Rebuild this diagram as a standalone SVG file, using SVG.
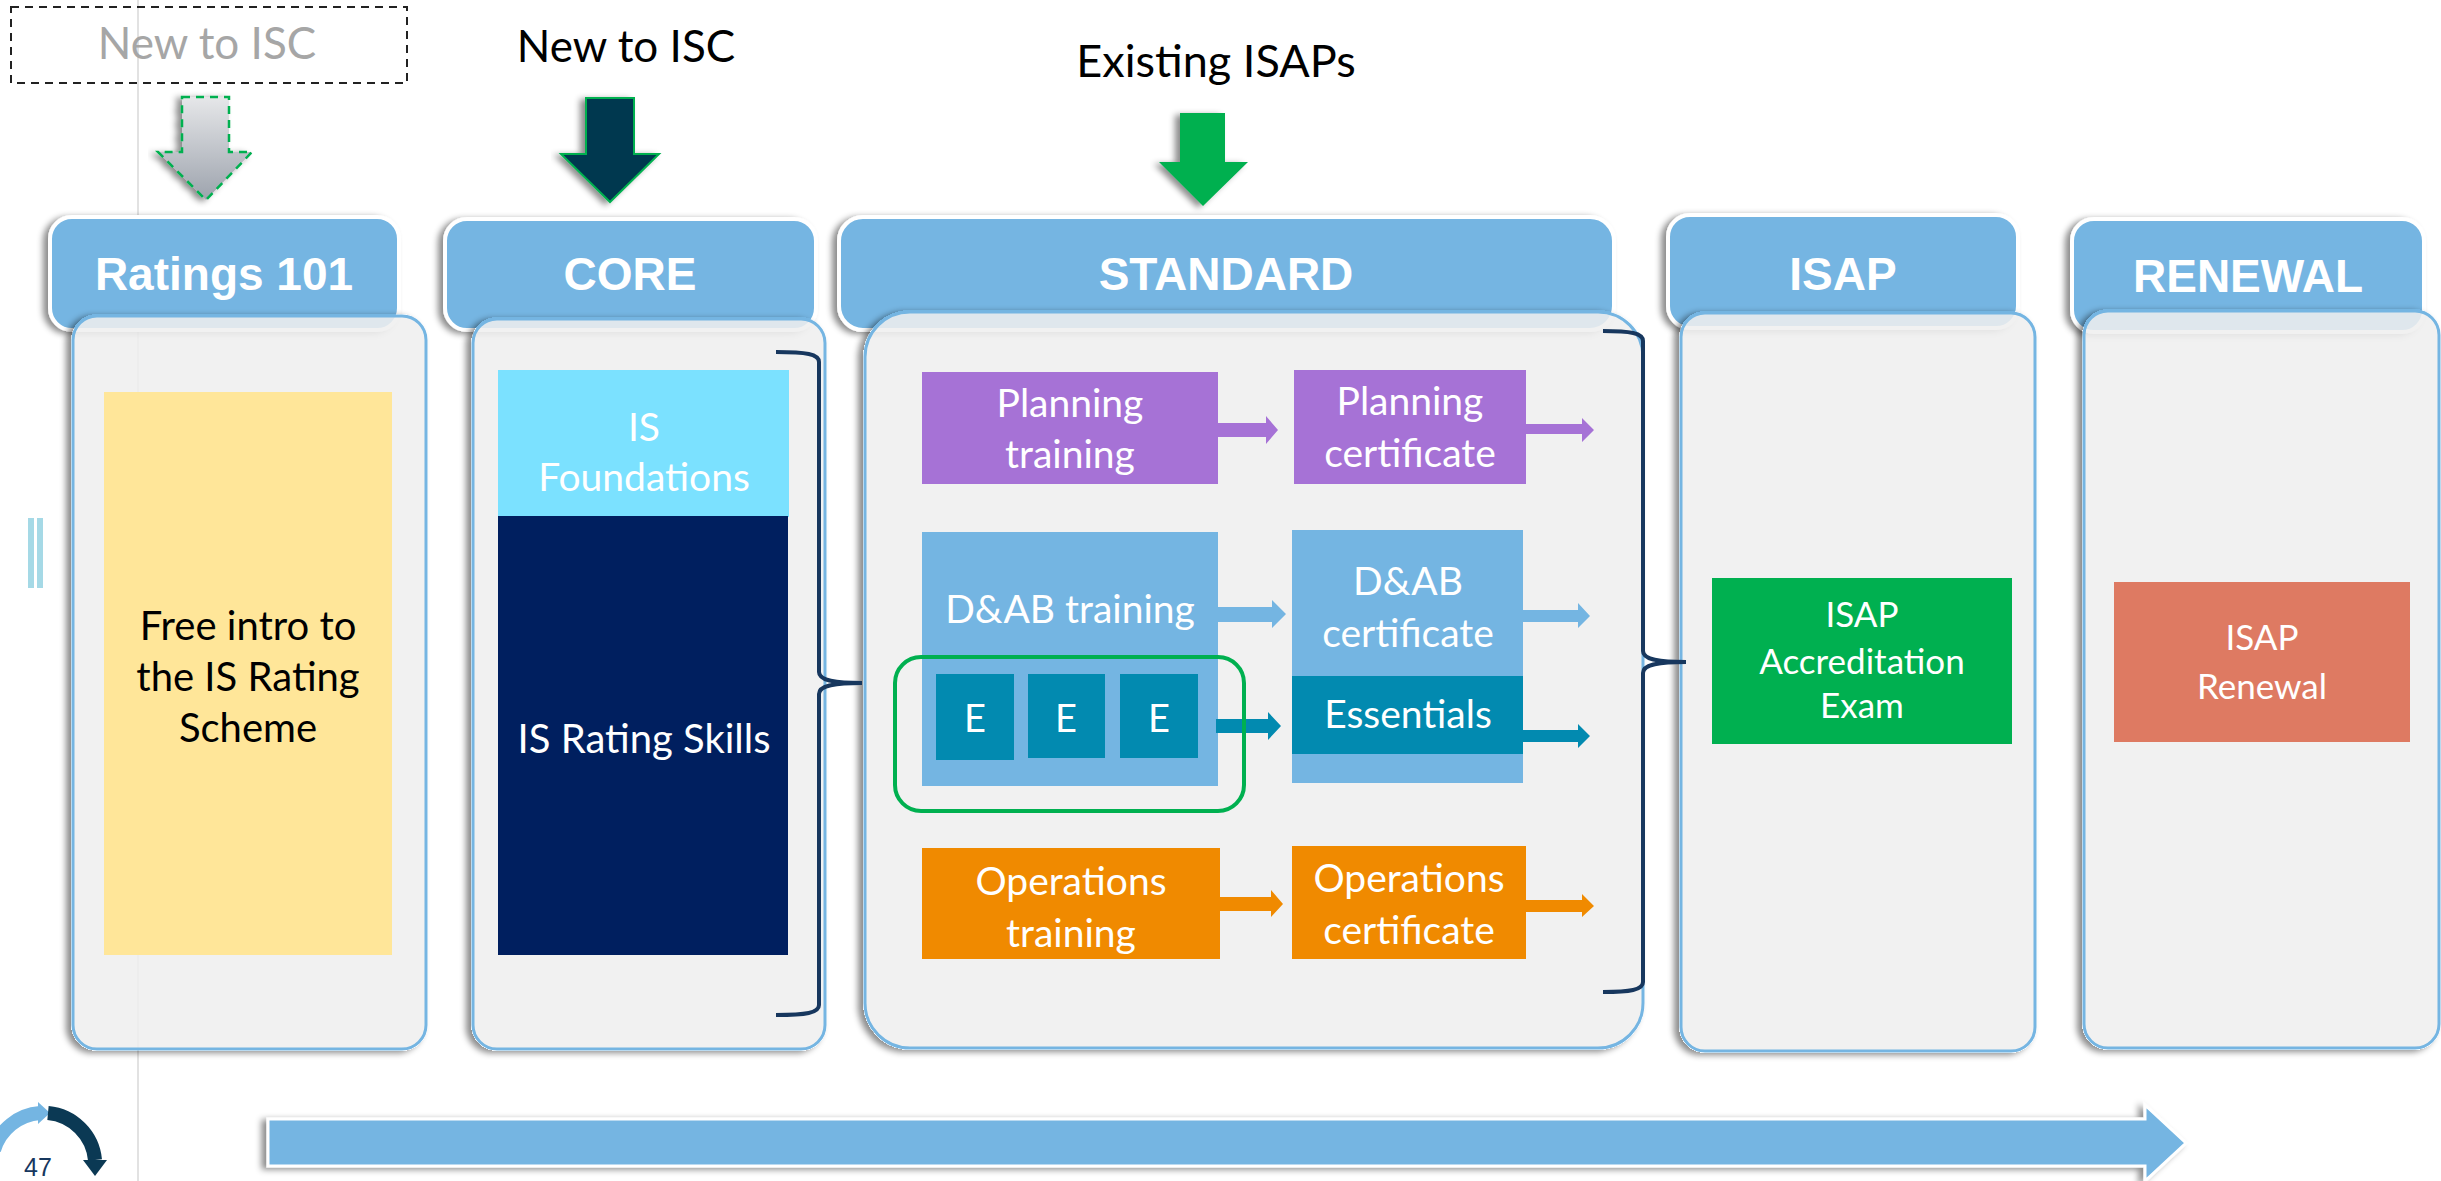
<svg xmlns="http://www.w3.org/2000/svg" width="2441" height="1181" viewBox="0 0 2441 1181">
<defs>
<style>
.hdr{fill:#74B5E2;stroke:#FFFFFF;stroke-width:4}
.body{fill:#EFEFEF;fill-opacity:0.87;stroke:#74B5E2;stroke-width:3}
.ht{font-family:"Liberation Sans",Arial,sans-serif;font-weight:bold;font-size:46px;fill:#FFFFFF;text-anchor:middle}
.bt{font-family:Lato,"Open Sans",sans-serif;fill:#FFFFFF;text-anchor:middle}
.brace{fill:none;stroke:#17375E;stroke-width:4}
</style>
<filter id="sh" x="-10%" y="-10%" width="120%" height="120%">
<feDropShadow dx="-5" dy="2" stdDeviation="3" flood-color="#000000" flood-opacity="0.45"/>
</filter>
<filter id="shb" x="-10%" y="-10%" width="120%" height="120%">
<feComponentTransfer in="SourceAlpha" result="a"><feFuncA type="linear" slope="20"/></feComponentTransfer>
<feGaussianBlur in="a" stdDeviation="3"/>
<feOffset dx="-5" dy="2" result="b"/>
<feFlood flood-color="#000000" flood-opacity="0.45"/>
<feComposite in2="b" operator="in"/>
<feComposite in2="a" operator="out" result="s"/>
<feMerge><feMergeNode in="s"/><feMergeNode in="SourceGraphic"/></feMerge>
</filter>
<linearGradient id="gray" x1="0" y1="0" x2="0" y2="1">
<stop offset="0" stop-color="#E6E7E9"/>
<stop offset="1" stop-color="#9DA3AD"/>
</linearGradient>
</defs>
<rect width="2441" height="1181" fill="#FFFFFF"/>
<line x1="138" y1="0" x2="138" y2="1181" stroke="#D9D9D9" stroke-width="1.5"/>
<g id="legend-bars" fill="#A5D9E6">
<rect x="28" y="518" width="6" height="70"/>
<rect x="37" y="518" width="6" height="70"/>
</g>
<g id="entry-ghost">
<rect x="11" y="7" width="396" height="76" fill="none" stroke="#222222" stroke-width="2" stroke-dasharray="8,6"/>
<text x="207" y="59" font-family="Lato,'Open Sans',sans-serif" font-size="44" fill="#A6A6A6" text-anchor="middle">New to ISC</text>
<path d="M182,97 L229,97 L229,152 L252,152 L206,200 L158,152 L182,152 Z" fill="url(#gray)" stroke="#00B050" stroke-width="2.5" stroke-dasharray="8,6" filter="url(#sh)"/>
</g>
<g id="entry-new">
<text x="626" y="62" font-family="Lato,'Open Sans',sans-serif" font-size="44" fill="#000000" text-anchor="middle">New to ISC</text>
<path d="M586,98 L634,98 L634,154 L659,154 L610,202 L561,154 L586,154 Z" fill="#03384F" stroke="#00B050" stroke-width="2" filter="url(#sh)"/>
</g>
<g id="entry-existing">
<text x="1216" y="77" font-family="Lato,'Open Sans',sans-serif" font-size="45" fill="#000000" text-anchor="middle">Existing ISAPs</text>
<path d="M1180,113 L1225,113 L1225,162 L1248,162 L1203,206 L1159,162 L1180,162 Z" fill="#00B050" filter="url(#sh)"/>
</g>
<g id="ratings101">
<rect class="hdr" x="50" y="217" width="349" height="113" rx="22" filter="url(#sh)"/>
<text class="ht" x="224" y="290">Ratings 101</text>
<rect class="body" x="73" y="316" width="353" height="733" rx="24" filter="url(#shb)"/>
<rect x="104" y="392" width="288" height="563" fill="#FFE699"/>
<text font-family="Lato,'Open Sans',sans-serif" font-size="40" fill="#000000" text-anchor="middle"><tspan x="248" y="640">Free intro to</tspan><tspan x="248" y="691">the IS Rating</tspan><tspan x="248" y="742">Scheme</tspan></text>
</g>
<g id="core">
<rect class="hdr" x="445" y="219" width="371" height="111" rx="22" filter="url(#sh)"/>
<text class="ht" x="630" y="290">CORE</text>
<rect class="body" x="473" y="319" width="352" height="730" rx="24" filter="url(#shb)"/>
<rect x="498" y="370" width="291" height="147" fill="#7BE1FF"/>
<text class="bt" font-size="39"><tspan x="644" y="441">IS</tspan><tspan x="644" y="491">Foundations</tspan></text>
<rect x="498" y="516" width="290" height="439" fill="#001F5F"/>
<text class="bt" font-size="40" x="644" y="753">IS Rating Skills</text>
</g>
<g id="standard">
<rect class="hdr" x="839" y="217" width="775" height="113" rx="24" filter="url(#sh)"/>
<text class="ht" x="1226" y="290">STANDARD</text>
<rect class="body" x="865" y="312" width="778" height="736" rx="45" filter="url(#shb)"/>
</g>
<g id="planning-training">
<rect x="922" y="372" width="296" height="112" fill="#A672D6"/>
<text class="bt" font-size="39"><tspan x="1070" y="417">Planning</tspan><tspan x="1070" y="468">training</tspan></text>
</g>
<g id="planning-certificate">
<rect x="1294" y="370" width="232" height="114" fill="#A672D6"/>
<text class="bt" font-size="39"><tspan x="1410" y="415">Planning</tspan><tspan x="1410" y="467">certificate</tspan></text>
</g>
<g id="dab-training">
<rect x="922" y="532" width="296" height="254" fill="#74B5E2"/>
<text class="bt" font-size="39" x="1070" y="623">D&amp;AB training</text>
</g>
<g id="essentials-modules">
<rect x="936" y="674" width="78" height="86" fill="#028AB0"/>
<rect x="1028" y="674" width="77" height="84" fill="#028AB0"/>
<rect x="1120" y="674" width="78" height="84" fill="#028AB0"/>
<text class="bt" font-size="38"><tspan x="975" y="732">E</tspan><tspan x="1066" y="732">E</tspan><tspan x="1159" y="732">E</tspan></text>
</g>
<g id="dab-certificate">
<rect x="1292" y="530" width="231" height="253" fill="#74B5E2"/>
<text class="bt" font-size="39"><tspan x="1408" y="595">D&amp;AB</tspan><tspan x="1408" y="647">certificate</tspan></text>
</g>
<g id="essentials">
<rect x="1292" y="676" width="231" height="78" fill="#028AB0"/>
<text class="bt" font-size="39" x="1408" y="728">Essentials</text>
</g>
<g id="operations-training">
<rect x="922" y="848" width="298" height="111" fill="#F08A00"/>
<text class="bt" font-size="39"><tspan x="1071" y="895">Operations</tspan><tspan x="1071" y="947">training</tspan></text>
</g>
<g id="operations-certificate">
<rect x="1292" y="846" width="234" height="113" fill="#F08A00"/>
<text class="bt" font-size="39"><tspan x="1409" y="892">Operations</tspan><tspan x="1409" y="944">certificate</tspan></text>
</g>
<g id="isap">
<rect class="hdr" x="1668" y="215" width="350" height="113" rx="22" filter="url(#sh)"/>
<text class="ht" x="1843" y="290">ISAP</text>
<rect class="body" x="1681" y="313" width="354" height="738" rx="24" filter="url(#shb)"/>
<rect x="1712" y="578" width="300" height="166" fill="#00B050"/>
<text class="bt" font-size="35"><tspan x="1862" y="627">ISAP</tspan><tspan x="1862" y="674">Accreditation</tspan><tspan x="1862" y="718">Exam</tspan></text>
</g>
<g id="renewal">
<rect class="hdr" x="2072" y="219" width="352" height="113" rx="22" filter="url(#sh)"/>
<text class="ht" x="2248" y="292">RENEWAL</text>
<rect class="body" x="2084" y="311" width="355" height="737" rx="24" filter="url(#shb)"/>
<rect x="2114" y="582" width="296" height="160" fill="#DE7A62"/>
<text class="bt" font-size="35"><tspan x="2262" y="650">ISAP</tspan><tspan x="2262" y="699">Renewal</tspan></text>
</g>
<g id="connectors">
<path d="M1218,423 L1266,423 L1266,416 L1278,430 L1266,444 L1266,437 L1218,437 Z" fill="#A672D6"/>
<path d="M1526,424 L1582,424 L1582,418 L1594,430 L1582,442 L1582,434 L1526,434 Z" fill="#A672D6"/>
<path d="M1218,607 L1272,607 L1272,600 L1286,614 L1272,628 L1272,622 L1218,622 Z" fill="#74B5E2"/>
<path d="M1523,610 L1578,610 L1578,603 L1590,616 L1578,628 L1578,622 L1523,622 Z" fill="#74B5E2"/>
<path d="M1216,719 L1268,719 L1268,712 L1281,726 L1268,740 L1268,733 L1216,733 Z" fill="#028AB0"/>
<path d="M1523,730 L1578,730 L1578,724 L1590,736 L1578,748 L1578,742 L1523,742 Z" fill="#028AB0"/>
<path d="M1220,897 L1271,897 L1271,890 L1283,904 L1271,917 L1271,911 L1220,911 Z" fill="#F08A00"/>
<path d="M1526,900 L1582,900 L1582,894 L1594,906 L1582,917 L1582,912 L1526,912 Z" fill="#F08A00"/>
<rect x="895" y="657" width="349" height="154" rx="26" fill="none" stroke="#00B050" stroke-width="4"/>
<path class="brace" d="M776,352 C806,352 819,354 819,362 L819,672 C819,680 832,683 862,683 C832,683 819,686 819,694 L819,1005 C819,1013 806,1015 776,1015"/>
<path class="brace" d="M1603,331 C1630,331 1643,333 1643,341 L1643,651 C1643,659 1656,662 1686,662 C1656,662 1643,665 1643,673 L1643,982 C1643,990 1630,992 1603,992"/>
<path d="M268,1119 L2145,1119 L2145,1105 L2186,1143 L2145,1181 L2145,1166 L268,1166 Z" fill="#74B5E2" stroke="#FFFFFF" stroke-width="3" filter="url(#sh)"/>
</g>
<g id="page-number">
<path d="M-6,1150 A52,52 0 0 1 40,1113" fill="none" stroke="#74B5E2" stroke-width="14"/>
<path d="M38,1102 L50,1113 L38,1124 Z" fill="#74B5E2"/>
<path d="M48,1113 A52,52 0 0 1 95,1160" fill="none" stroke="#0B3954" stroke-width="14"/>
<path d="M83,1160 L107,1160 L95,1176 Z" fill="#0B3954"/>
<text x="38" y="1176" font-family="'Liberation Sans',Arial,sans-serif" font-size="25" fill="#17375E" text-anchor="middle">47</text>
</g>
</svg>
